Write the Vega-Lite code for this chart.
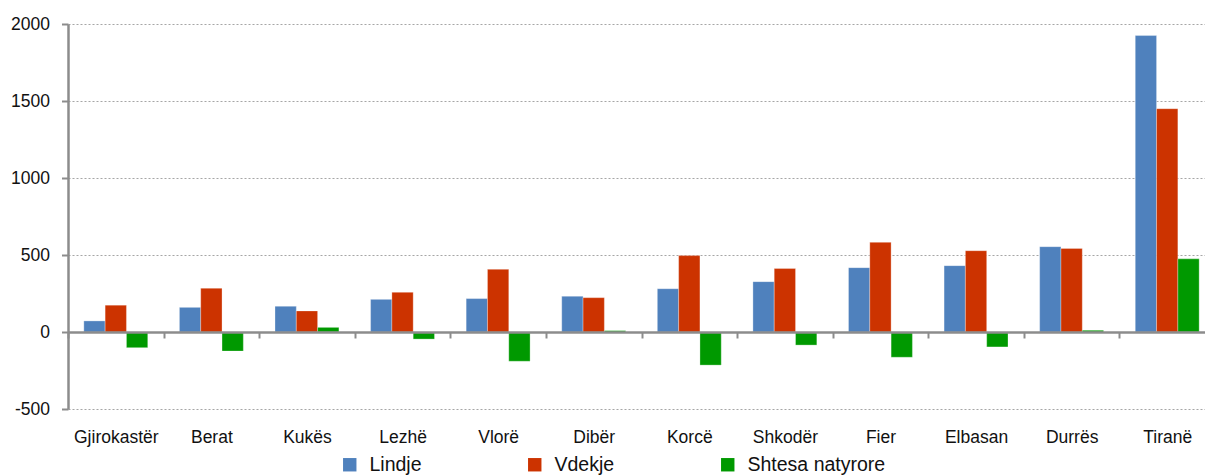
{
  "$schema": "https://vega.github.io/schema/vega-lite/v6.json",
  "autosize": {"type": "none"},
  "padding": {"left": 68, "top": 24, "right": 0, "bottom": 66},
  "width": 1137,
  "height": 385,
  "background": "white",
  "config": {
    "view": {"stroke": null},
    "font": "Liberation Sans",
    "axis": {"labelFont": "Liberation Sans", "labelColor": "#111111", "labelFontSize": 17.5},
    "legend": {"labelFont": "Liberation Sans"}
  },
  "data": {
    "values": [
      {"region": "Gjirokastër", "series": "Lindje", "value": 72},
      {"region": "Gjirokastër", "series": "Vdekje", "value": 174},
      {"region": "Gjirokastër", "series": "Shtesa natyrore", "value": -102},
      {"region": "Berat", "series": "Lindje", "value": 160},
      {"region": "Berat", "series": "Vdekje", "value": 284},
      {"region": "Berat", "series": "Shtesa natyrore", "value": -124},
      {"region": "Kukës", "series": "Lindje", "value": 167},
      {"region": "Kukës", "series": "Vdekje", "value": 137},
      {"region": "Kukës", "series": "Shtesa natyrore", "value": 30},
      {"region": "Lezhë", "series": "Lindje", "value": 212},
      {"region": "Lezhë", "series": "Vdekje", "value": 258},
      {"region": "Lezhë", "series": "Shtesa natyrore", "value": -46},
      {"region": "Vlorë", "series": "Lindje", "value": 217},
      {"region": "Vlorë", "series": "Vdekje", "value": 407},
      {"region": "Vlorë", "series": "Shtesa natyrore", "value": -190},
      {"region": "Dibër", "series": "Lindje", "value": 232},
      {"region": "Dibër", "series": "Vdekje", "value": 223},
      {"region": "Dibër", "series": "Shtesa natyrore", "value": 9},
      {"region": "Korcë", "series": "Lindje", "value": 281},
      {"region": "Korcë", "series": "Vdekje", "value": 496},
      {"region": "Korcë", "series": "Shtesa natyrore", "value": -215},
      {"region": "Shkodër", "series": "Lindje", "value": 327},
      {"region": "Shkodër", "series": "Vdekje", "value": 412},
      {"region": "Shkodër", "series": "Shtesa natyrore", "value": -85},
      {"region": "Fier", "series": "Lindje", "value": 418},
      {"region": "Fier", "series": "Vdekje", "value": 582},
      {"region": "Fier", "series": "Shtesa natyrore", "value": -164},
      {"region": "Elbasan", "series": "Lindje", "value": 431},
      {"region": "Elbasan", "series": "Vdekje", "value": 528},
      {"region": "Elbasan", "series": "Shtesa natyrore", "value": -97},
      {"region": "Durrës", "series": "Lindje", "value": 554},
      {"region": "Durrës", "series": "Vdekje", "value": 543},
      {"region": "Durrës", "series": "Shtesa natyrore", "value": 11},
      {"region": "Tiranë", "series": "Lindje", "value": 1925},
      {"region": "Tiranë", "series": "Vdekje", "value": 1450},
      {"region": "Tiranë", "series": "Shtesa natyrore", "value": 475}
    ]
  },
  "mark": {"type": "bar", "stroke": "white", "strokeWidth": 0.6, "strokeOpacity": 0.5},
  "encoding": {
    "x": {
      "field": "region",
      "type": "nominal",
      "sort": null,
      "title": null,
      "scale": {"range": [0, 1147], "paddingInner": 0, "paddingOuter": 0},
      "axis": {
        "offset": -77,
        "labelAngle": 0,
        "labelPadding": 90,
        "labelBaseline": "top",
        "tickBand": "extent",
        "tickSize": 6,
        "tickColor": "#8c8c8c",
        "tickWidth": 2,
        "domainColor": "#8c8c8c",
        "domainWidth": 2.5,
        "grid": false,
        "zindex": 1
      }
    },
    "xOffset": {
      "field": "series",
      "type": "nominal",
      "sort": ["Lindje", "Vdekje", "Shtesa natyrore"],
      "scale": {"paddingInner": 0, "paddingOuter": 0.743}
    },
    "y": {
      "field": "value",
      "type": "quantitative",
      "title": null,
      "scale": {"domain": [-500, 2000], "nice": false, "zero": false},
      "axis": {
        "values": [-500, 0, 500, 1000, 1500, 2000],
        "labelExpr": "'' + datum.value",
        "labelPadding": 12,
        "labelFontSize": 17.5,
        "tickSize": 6.5,
        "tickColor": "#8c8c8c",
        "tickWidth": 2,
        "domainColor": "#8c8c8c",
        "domainWidth": 2.5,
        "grid": true,
        "gridColor": "#a6a6a6",
        "gridDash": [2, 2],
        "gridWidth": 1.2
      }
    },
    "color": {
      "field": "series",
      "type": "nominal",
      "sort": ["Lindje", "Vdekje", "Shtesa natyrore"],
      "scale": {"domain": ["Lindje", "Vdekje", "Shtesa natyrore"], "range": ["#4F81BD", "#CC3300", "#009900"]},
      "legend": {
        "title": null,
        "orient": "none",
        "direction": "horizontal",
        "legendX": 272,
        "legendY": 431,
        "padding": 0,
        "symbolType": "square",
        "symbolSize": 180,
        "symbolStrokeWidth": 0,
        "labelFontSize": 19.5,
        "labelColor": "#111111",
        "labelOffset": 10,
        "columnPadding": 103,
        "gridAlign": "none"
      }
    }
  }
}
